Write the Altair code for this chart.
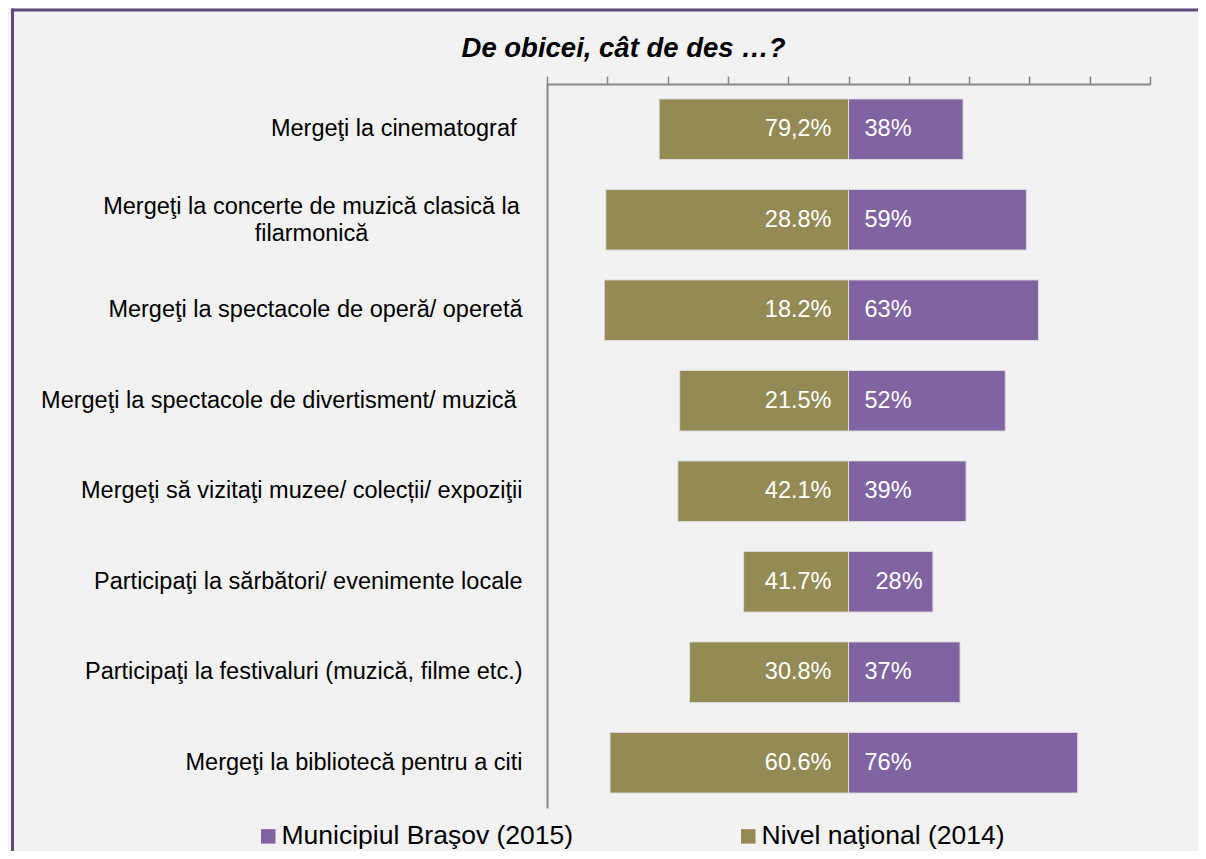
import altair as alt
import pandas as pd

categories = [
    "Mergeţi la cinematograf ",
    "Mergeţi la concerte de muzică clasică la filarmonică",
    "Mergeţi la spectacole de operă/ operetă",
    "Mergeţi la spectacole de divertisment/ muzică ",
    "Mergeţi să vizitaţi muzee/ colecții/ expoziţii",
    "Participaţi la sărbători/ evenimente locale",
    "Participaţi la festivaluri (muzică, filme etc.)",
    "Mergeţi la bibliotecă pentru a citi",
]
national_name = "Nivel naţional (2014)"
brasov_name = "Municipiul Braşov (2015)"

national_bar = [62.8, 80.5, 81.0, 56.0, 56.6, 34.8, 52.7, 79.1]
national_labels = ["79,2%", "28.8%", "18.2%", "21.5%", "42.1%", "41.7%", "30.8%", "60.6%"]
brasov_values = [38, 59, 63, 52, 39, 28, 37, 76]
brasov_labels = ["38%", "59%", "63%", "52%", "39%", "  28%", "37%", "76%"]
tick_values = [-100, -80, -60, -40, -20, 0, 20, 40, 60, 80, 100]

rows = []
for c, nb, nl, bv, bl in zip(categories, national_bar, national_labels, brasov_values, brasov_labels):
    rows.append({"cat": c, "series": national_name, "val": -nb, "lab": nl})
    rows.append({"cat": c, "series": brasov_name, "val": bv, "lab": bl})
df = pd.DataFrame(rows)

PURPLE = "#8064A2"
OLIVE = "#948A54"
GRID = "#868686"
FONT = "Liberation Sans"

two_line_test = "indexof(datum.label, 'filarmonic') >= 0"
trail_test = "substring(datum.label, length(datum.label) - 1) == ' '"
label_expr = (
    two_line_test + " ? "
    "['Mergeţi la concerte de muzică clasică la', 'filarmonică'] : datum.label"
)

y_enc = alt.Y(
    "cat:N",
    sort=categories,
    scale=alt.Scale(paddingInner=0.33, paddingOuter=0.165),
    axis=alt.Axis(
        title=None, ticks=False, tickSize=0, domainColor=GRID, domainWidth=2,
        labelFontSize=23.5, labelColor="#000000", labelLimit=0,
        labelAlign={"condition": {"test": two_line_test, "value": "center"}, "value": "right"},
        labelPadding={
            "condition": [
                {"test": two_line_test, "value": 236},
                {"test": trail_test, "value": 31},
            ],
            "value": 25,
        },
        labelOffset={"condition": {"test": two_line_test, "value": -13}, "value": 0},
        labelExpr=label_expr, labelLineHeight=27, labelFont=FONT,
    ),
)
x_enc = alt.X(
    "val:Q",
    scale=alt.Scale(domain=[-100, 100], nice=False, zero=False),
    axis=alt.Axis(
        orient="top", values=tick_values, labels=False, title=None, grid=False,
        tickSize=8, tickColor=GRID, tickWidth=1.5, domainColor=GRID, domainWidth=2,
    ),
)

base = alt.Chart(df)

bars = base.mark_bar(stroke="#DCDCDC", strokeWidth=1).encode(
    x=x_enc,
    y=y_enc,
    color=alt.Color(
        "series:N",
        scale=alt.Scale(domain=[brasov_name, national_name], range=[PURPLE, OLIVE]),
        legend=alt.Legend(
            title=None, orient="none", direction="horizontal", legendX=-292, legendY=739,
            symbolType="square", symbolSize=210, symbolStrokeWidth=0, symbolOpacity=1,
            labelFontSize=26.5, labelColor="#000000", labelFont=FONT, labelOffset=0,
            columnPadding=161, padding=0, labelLimit=0,
        ),
    ),
)

left_text = base.transform_filter(
    alt.datum.series == national_name
).transform_calculate(zero="0").mark_text(
    align="right", baseline="middle", dx=-17, color="white", fontSize=23.5, font=FONT
).encode(x=alt.X("zero:Q"), y=alt.Y("cat:N", sort=categories), text="lab:N")

right_text = base.transform_filter(
    (alt.datum.series == brasov_name) & (alt.expr.indexof(alt.datum.lab, " ") != 0)
).transform_calculate(zero="0").mark_text(
    align="left", baseline="middle", dx=16, color="white", fontSize=23.5, font=FONT
).encode(x=alt.X("zero:Q"), y=alt.Y("cat:N", sort=categories), text="lab:N")

# labels whose text begins with spaces keep the visual indent of those spaces
right_text_indented = base.transform_filter(
    (alt.datum.series == brasov_name) & (alt.expr.indexof(alt.datum.lab, " ") == 0)
).transform_calculate(zero="0").mark_text(
    align="left", baseline="middle", dx=27, color="white", fontSize=23.5, font=FONT
).encode(x=alt.X("zero:Q"), y=alt.Y("cat:N", sort=categories), text="lab:N")

frame_df = pd.DataFrame({"k": [0]})
frame_top = alt.Chart(frame_df).mark_rule(color="#5F497A", strokeWidth=3).encode(
    x=alt.value(-535), x2=alt.value(660), y=alt.value(-74)
)
frame_left = alt.Chart(frame_df).mark_rule(color="#5F497A", strokeWidth=3).encode(
    x=alt.value(-534.5), y=alt.value(-75.5), y2=alt.value(800)
)

chart = alt.layer(
    frame_top, frame_left, bars, left_text, right_text, right_text_indented
).properties(
    width=603,
    height=724,
    title=alt.TitleParams(
        "De obicei, cât de des …?", fontSize=27.5, fontStyle="italic", fontWeight="bold",
        color="#000000", font=FONT, anchor="middle", dx=-225, baseline="alphabetic", offset=-77,
    ),
    autosize=alt.AutoSizeParams(type="none"),
    padding={"left": 539, "top": 76, "right": 48, "bottom": 43},
).configure(
    background="#F2F2F2",
).configure_view(stroke=None)

chart.save("out.html", embed_options={"renderer": "svg", "actions": False})
